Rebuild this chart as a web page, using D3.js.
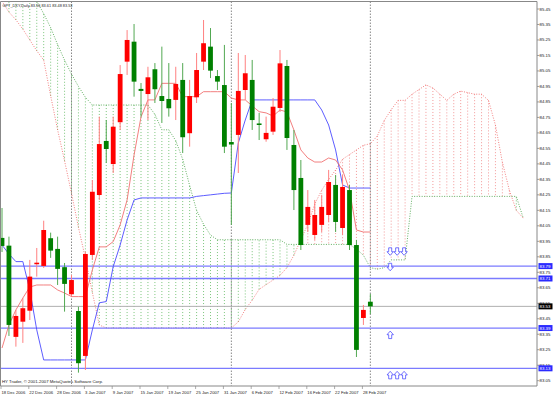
<!DOCTYPE html>
<html>
<head>
<meta charset="utf-8">
<script src="https://cdn.jsdelivr.net/npm/d3@7"></script>
<style>
  body { margin: 0; background: #fff; }
  svg { display: block; font-family: "Liberation Sans", Arial, sans-serif; }
</style>
</head>
<body>
<div id="chart"></div>
<script>
// daily bars, 18 Dec 2006 .. 1 Mar 2007
const opens  = [83.972,83.922,83.333,83.431,83.502,83.802,83.791,83.970,83.901,83.783,83.608,83.500,83.210,83.862,84.249,84.598,84.449,84.719,85.110,85.239,84.934,84.901,85.061,84.888,84.869,84.863,84.992,84.648,84.880,85.110,85.207,85.017,84.959,84.591,84.637,84.927,84.992,84.711,84.609,84.658,84.811,85.082,84.572,84.359,84.056,83.991,84.056,84.120,84.314,84.036,84.281,83.926,83.455,83.56];
const highs  = [84.165,83.980,83.507,83.584,83.830,83.907,84.083,84.006,83.980,83.810,83.733,83.528,83.883,84.346,84.755,84.733,84.755,85.088,85.314,85.353,84.972,85.077,85.101,85.207,85.101,85.077,85.101,84.992,85.166,85.379,85.327,85.056,85.218,84.843,85.166,85.153,85.121,84.779,84.755,84.875,85.185,85.121,84.669,84.475,84.281,84.217,84.249,84.411,84.378,84.378,84.314,83.959,83.539,83.61];
const lows   = [83.881,83.339,83.270,83.294,83.442,83.722,83.778,83.843,83.668,83.496,83.593,83.102,83.119,83.830,84.217,84.456,84.391,84.669,85.024,84.884,84.755,84.733,84.843,84.714,84.755,84.733,84.520,84.561,84.843,85.056,85.004,84.927,84.520,84.056,84.391,84.863,84.669,84.604,84.593,84.637,84.785,84.540,84.152,83.894,84.010,83.959,84.010,84.075,84.010,83.991,83.894,83.203,83.410,83.48];
const closes = [83.920,83.410,83.468,83.518,83.722,83.812,84.023,83.890,83.772,83.675,83.700,83.163,83.868,84.270,84.578,84.546,84.690,85.030,85.250,84.981,84.921,85.009,84.932,84.856,84.809,84.966,84.622,84.888,85.056,85.229,85.052,84.981,84.561,84.575,84.921,85.035,84.733,84.701,84.650,84.819,85.099,84.617,84.281,83.926,84.172,84.120,84.172,84.333,84.075,84.301,83.926,83.249,83.507,83.53];

// ichimoku lines
const tenkan = [83.261,83.410,83.507,83.584,83.655,83.668,83.668,83.668,83.636,83.616,83.593,83.593,83.593,83.765,83.914,83.914,83.948,84.056,84.217,84.507,84.753,84.863,84.863,84.970,84.970,84.970,84.884,84.884,84.884,84.916,84.916,84.916,84.916,84.875,84.863,84.863,84.824,84.787,84.779,84.759,84.798,84.785,84.669,84.540,84.488,84.462,84.462,84.488,84.475,84.411,84.281,84.023,84.010,84.010];
const kijun  = [83.926,83.868,83.819,83.819,83.636,83.378,83.184,83.184,83.184,83.184,83.184,83.184,83.184,83.378,83.553,83.561,83.786,83.926,84.088,84.217,84.230,84.230,84.230,84.230,84.230,84.230,84.230,84.230,84.240,84.245,84.250,84.255,84.260,84.262,84.585,84.733,84.863,84.863,84.863,84.863,84.863,84.863,84.863,84.863,84.863,84.863,84.798,84.701,84.540,84.314,84.294,84.294,84.294,84.294];
// senkou spans, bar 0 .. bar 75 (shifted ahead)
const spanA  = [85.50,85.43,85.38,85.32,85.25,85.18,85.12,84.89,84.67,84.47,84.26,84.04,83.84,83.62,83.41,83.39,83.39,83.39,83.39,83.39,83.39,83.39,83.39,83.39,83.39,83.39,83.39,83.39,83.39,83.39,83.39,83.39,83.39,83.39,83.43,83.51,83.57,83.64,83.67,83.70,83.73,83.78,83.86,83.96,84.06,84.19,84.28,84.35,84.41,84.48,84.51,84.54,84.57,84.58,84.63,84.73,84.80,84.86,84.86,84.90,84.93,84.96,84.94,84.90,84.86,84.90,84.92,84.91,84.90,84.90,84.86,84.70,84.46,84.28,84.15,84.10];
const spanB  = [85.80,85.72,85.65,85.60,85.55,85.50,85.42,85.33,85.22,85.12,85.03,84.95,84.88,84.83,84.83,84.83,84.83,84.83,84.83,84.83,84.83,84.83,84.77,84.67,84.67,84.60,84.48,84.31,84.15,84.06,83.99,83.96,83.96,83.96,83.96,83.96,83.96,83.96,83.96,83.96,83.96,83.93,83.93,83.93,83.93,83.93,83.93,83.93,83.93,83.93,83.93,83.90,83.86,83.78,83.77,83.78,83.83,83.83,83.83,84.24,84.24,84.24,84.24,84.24,84.24,84.24,84.24,84.24,84.24,84.24,84.24,84.24,84.24,84.24,84.24,84.10];

const priceTicks = [85.45,85.35,85.25,85.15,85.05,84.95,84.85,84.75,84.65,84.55,84.45,84.35,84.25,84.15,84.05,83.95,83.85,83.75,83.65,83.55,83.45,83.35,83.25,83.15,83.05];
const dateLabels = ["18 Dec 2006","22 Dec 2006","28 Dec 2006","3 Jan 2007","9 Jan 2007","15 Jan 2007","19 Jan 2007","25 Jan 2007","31 Jan 2007","6 Feb 2007","12 Feb 2007","16 Feb 2007","22 Feb 2007","28 Feb 2007"];
const dateBars = [0,4,8,12,16,20,24,28,32,36,40,44,48,52];
const separatorBars = [10, 33, 53];   // month starts
const levels = [83.79, 83.71, 83.39, 83.13];
const lastPrice = 83.53;
const title = "GPT_DXY,Daily  83.56 83.61 83.48 83.53";
const copyright = "HY Trader, \u00a9 2001-2007 MetaQuotes Software Corp.";
// arrow objects: bar, price of the arrow tip side, direction
const arrowBars   = [56,57,58,56,56,56,57,58];
const arrowPrices = [83.85,83.85,83.85,83.75,83.38,83.12,83.12,83.12];
const arrowDirs   = ["down","down","down","down","up","up","up","up"];

const W = 553, H = 396;
const plotRight = 537, plotTop = 1.5, plotBottom = 386;

const x = d3.scaleLinear().domain([0, 53]).range([2, 370.35]);
const y = d3.scaleLinear().domain([83.05, 85.45]).range([380.7, 9]);

const svg = d3.select("#chart").append("svg")
    .attr("width", W).attr("height", H);

svg.append("rect").attr("width", W).attr("height", H).attr("fill", "#fff");

svg.append("clipPath").attr("id", "plot")
  .append("rect")
    .attr("x", 0).attr("y", plotTop)
    .attr("width", plotRight).attr("height", plotBottom - plotTop);

const g = svg.append("g").attr("clip-path", "url(#plot)");

// cloud hatching
const cloudIdx = d3.range(spanA.length);
g.append("g").selectAll("line").data(cloudIdx).join("line")
    .attr("x1", i => x(i)).attr("x2", i => x(i))
    .attr("y1", i => y(spanA[i])).attr("y2", i => y(spanB[i]))
    .attr("stroke", i => spanA[i] >= spanB[i] ? "#f08080" : "#5cb85c")
    .attr("stroke-width", 0.8)
    .attr("stroke-dasharray", "1,2");

const spanLine = arr => d3.line().x((d, i) => x(i)).y(d => y(d))(arr);
g.append("path").attr("d", spanLine(spanA))
    .attr("fill", "none").attr("stroke", "#f06060").attr("stroke-width", 0.8).attr("stroke-dasharray", "1,1.5");
g.append("path").attr("d", spanLine(spanB))
    .attr("fill", "none").attr("stroke", "#3c9c3c").attr("stroke-width", 0.8).attr("stroke-dasharray", "1,1.5");

// month separators
g.append("g").selectAll("line").data(separatorBars).join("line")
    .attr("x1", d => x(d)).attr("x2", d => x(d))
    .attr("y1", plotTop).attr("y2", plotBottom)
    .attr("stroke", "#555").attr("stroke-width", 0.7).attr("stroke-dasharray", "1.5,1.5");

// horizontal levels
g.append("g").selectAll("line").data(levels).join("line")
    .attr("x1", 0).attr("x2", plotRight)
    .attr("y1", d => y(d)).attr("y2", d => y(d))
    .attr("stroke", "#7b7bff").attr("stroke-width", 1.3);

g.append("line")
    .attr("x1", 0).attr("x2", plotRight)
    .attr("y1", y(lastPrice)).attr("y2", y(lastPrice))
    .attr("stroke", "#b0b0b0").attr("stroke-width", 1);

// tenkan / kijun
const solid = arr => d3.line().x((d, i) => x(i)).y(d => y(d))(arr);
g.append("path").attr("d", solid(kijun))
    .attr("fill", "none").attr("stroke", "#4b4bff").attr("stroke-width", 0.9);
g.append("path").attr("d", solid(tenkan))
    .attr("fill", "none").attr("stroke", "#f07070").attr("stroke-width", 0.9);

// candles (red = rising, green = falling)
const bars = d3.range(opens.length);
const col = i => closes[i] >= opens[i] ? "#ff0000" : "#008000";
const wickCol = i => closes[i] >= opens[i] ? "#ff8080" : "#52a852";
g.append("g").selectAll("line").data(bars).join("line")
    .attr("x1", i => x(i)).attr("x2", i => x(i))
    .attr("y1", i => y(highs[i])).attr("y2", i => y(lows[i]))
    .attr("stroke", wickCol).attr("stroke-width", 1);
g.append("g").selectAll("rect").data(bars).join("rect")
    .attr("x", i => x(i) - 2.4).attr("width", 4.8)
    .attr("y", i => y(Math.max(opens[i], closes[i])))
    .attr("height", i => Math.max(1.2, Math.abs(y(opens[i]) - y(closes[i]))))
    .attr("fill", col);

// arrows
const arrowPath = (cx, yt, dir) => {
  const p = d3.path();
  const h = 7.5, hw = 3.2, sw = 1.5, hh = 3.6;
  if (dir === "up") {
    p.moveTo(cx, yt); p.lineTo(cx + hw, yt + hh); p.lineTo(cx + sw, yt + hh);
    p.lineTo(cx + sw, yt + h); p.lineTo(cx - sw, yt + h); p.lineTo(cx - sw, yt + hh);
    p.lineTo(cx - hw, yt + hh); p.closePath();
  } else {
    p.moveTo(cx, yt + h); p.lineTo(cx + hw, yt + h - hh); p.lineTo(cx + sw, yt + h - hh);
    p.lineTo(cx + sw, yt); p.lineTo(cx - sw, yt); p.lineTo(cx - sw, yt + h - hh);
    p.lineTo(cx - hw, yt + h - hh); p.closePath();
  }
  return p.toString();
};
g.append("g").selectAll("path").data(arrowBars).join("path")
    .attr("d", (b, i) => arrowPath(x(b) - 1, y(arrowPrices[i]) + (arrowDirs[i] === "up" ? 1.5 : -9), arrowDirs[i]))
    .attr("fill", "#fff").attr("stroke", "#3a3aff").attr("stroke-width", 0.7);

// frame
svg.append("path")
    .attr("d", `M0.5,${plotTop}H${plotRight}V${plotBottom}H0.5Z`)
    .attr("fill", "none").attr("stroke", "#888").attr("stroke-width", 1);

// price axis
const yAxis = svg.append("g");
yAxis.selectAll("line").data(priceTicks).join("line")
    .attr("x1", plotRight).attr("x2", plotRight + 2.5)
    .attr("y1", d => y(d)).attr("y2", d => y(d))
    .attr("stroke", "#888").attr("stroke-width", 0.8);
yAxis.selectAll("text").data(priceTicks).join("text")
    .attr("x", 539.5).attr("y", d => y(d) + 1.5)
    .attr("font-size", 4.4).attr("fill", "#222")
    .text(d => d.toFixed(2));

const tag = (price, fill) => {
  svg.append("rect").attr("x", 538.5).attr("y", y(price) - 3)
      .attr("width", 14).attr("height", 6).attr("fill", fill);
  svg.append("text").attr("x", 539.5).attr("y", y(price) + 1.6)
      .attr("font-size", 4.4).attr("fill", "#fff").text(price.toFixed(2));
};
levels.forEach(l => tag(l, "#2b2bff"));
tag(lastPrice, "#000");

// time axis
const xAxis = svg.append("g");
xAxis.selectAll("line").data(dateBars).join("line")
    .attr("x1", d => x(d) - 1).attr("x2", d => x(d) - 1)
    .attr("y1", plotBottom).attr("y2", plotBottom + 3)
    .attr("stroke", "#888").attr("stroke-width", 0.7);
xAxis.selectAll("text").data(dateBars).join("text")
    .attr("x", d => x(d) - 0.5).attr("y", 393.5)
    .attr("font-size", 4.2).attr("fill", "#222")
    .text((d, i) => dateLabels[i]);

svg.append("text").attr("x", 2.5).attr("y", 7)
    .attr("font-size", 4.4).attr("fill", "#222")
    .attr("textLength", 70).attr("lengthAdjust", "spacingAndGlyphs")
    .text(title);
svg.append("text").attr("x", 2).attr("y", 383)
    .attr("font-size", 4.4).attr("fill", "#222")
    .attr("textLength", 101).attr("lengthAdjust", "spacingAndGlyphs")
    .text(copyright);
</script>
</body>
</html>
